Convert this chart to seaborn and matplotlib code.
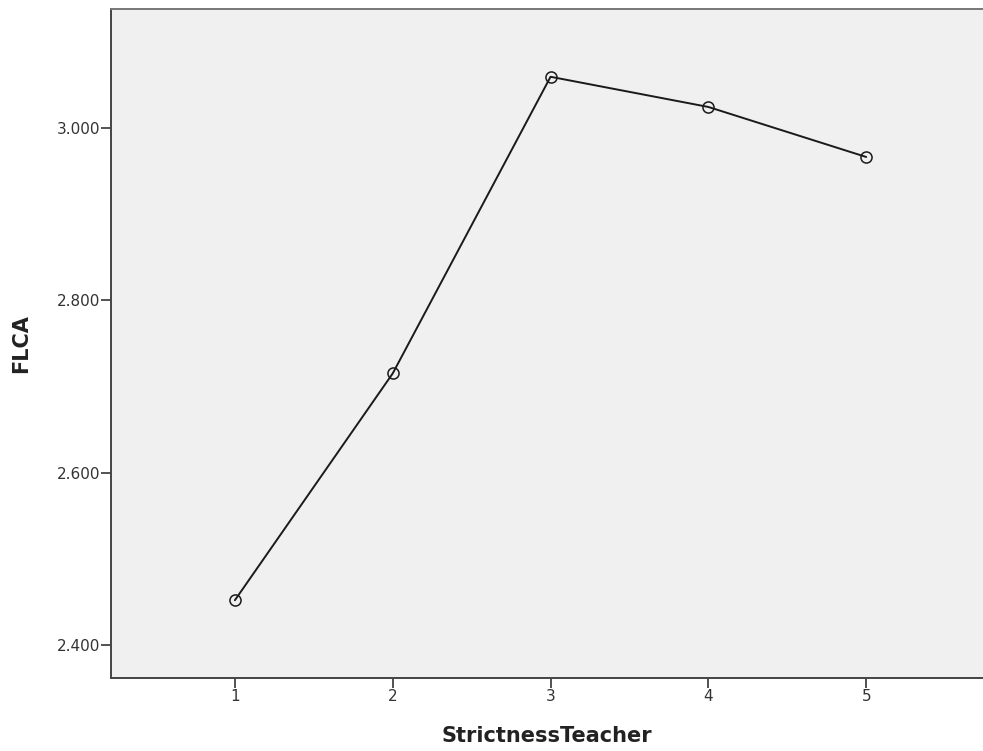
import matplotlib
matplotlib.use("Agg")
import matplotlib.pyplot as plt
import seaborn as sns
import pandas as pd

# Mean FLCA by teacher strictness level
strictness = [1, 2, 3, 4, 5]
flca_mean = [2.452, 2.715, 3.059, 3.024, 2.966]
y_ticks = [2.4, 2.6, 2.8, 3.0]

df = pd.DataFrame({"StrictnessTeacher": strictness, "FLCA": flca_mean})

sns.set_style("white")
plt.rcParams['font.family'] = ['DejaVu Sans']

fig = plt.figure(figsize=(9.83, 7.51), dpi=100)
ax = fig.add_axes([111 / 983, 1 - 678 / 751, 1 - 111 / 983, (678 - 9) / 751])
ax.set_facecolor("#F0F0F0")

sns.lineplot(data=df, x="StrictnessTeacher", y="FLCA", ax=ax, color="#1a1a1a",
             linewidth=1.4, marker="o", markersize=8, markerfacecolor="none",
             markeredgecolor="#1a1a1a", markeredgewidth=1.1)

ax.set_xlim(0.215, 5.74)
ax.set_ylim(2.3618, 3.1376)
ax.set_xticks(strictness)
ax.set_xticklabels([str(s) for s in strictness])
ax.set_yticks(y_ticks)
ax.set_yticklabels([f"{v:.3f}" for v in y_ticks])

ax.tick_params(axis="both", direction="out", length=7, width=1.3, color="#444444",
               labelsize=11, labelcolor="#333333", left=True, bottom=True, pad=1)

for side in ["left", "bottom"]:
    ax.spines[side].set_color("#444444")
    ax.spines[side].set_linewidth(1.4)
ax.spines["top"].set_color("#777777")
ax.spines["top"].set_linewidth(1.4)
ax.spines["right"].set_visible(False)

ax.set_xlabel("StrictnessTeacher", fontsize=15, fontweight="bold", color="#222222", labelpad=16)
ax.set_ylabel("FLCA", fontsize=15, fontweight="bold", color="#222222", labelpad=18)

fig.savefig("out.png", dpi=100)
